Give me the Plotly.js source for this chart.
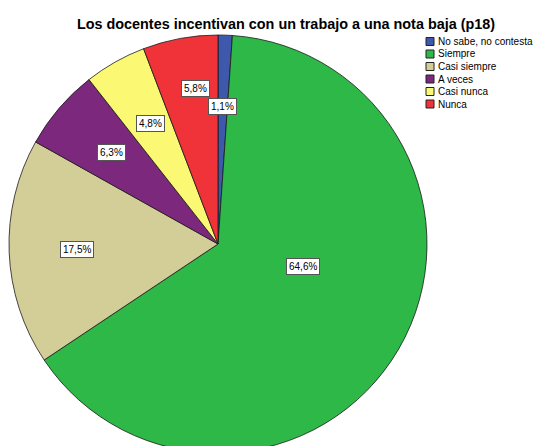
<!DOCTYPE html>
<html>
<head>
<meta charset="utf-8">
<script src="https://cdn.plot.ly/plotly-3.0.1.min.js"></script>
<style>
html,body{margin:0;padding:0;overflow:hidden;background:#fff;width:534px;height:446px;}
#chart{width:534px;height:460px;}
</style>
</head>
<body>
<div id="chart"></div>
<script>
// ---- data ----
var categories = ["No sabe, no contesta", "Siempre", "Casi siempre", "A veces", "Casi nunca", "Nunca"];
var percents = [1.1, 64.6, 17.5, 6.3, 4.8, 5.8];
var chartTitle = "Los docentes incentivan con un trabajo a una nota baja (p18)";

// ---- styles ----
var colors = ["#3E58AC", "#2EB848", "#D3CE97", "#7C287D", "#FBF873", "#EF3338"];
// label placement: [radius fraction, angle shift in degrees]
var labelPlacement = [[0.66, 0], [0.42, -15], [0.675, 0], [0.67, 0], [0.66, 0], [0.75, 2]];

var W = 534, H = 460;
var M = {l: 9, r: 0, t: 35, b: 7};
var plotW = W - M.l - M.r, plotH = H - M.t - M.b;
var diam = plotH;
var R = diam / 2;
var cx = M.l + R, cy = M.t + R;
function px2x(px){ return (px - M.l) / plotW; }
function py2y(py){ return (H - M.b - py) / plotH; }

var total = percents.reduce(function(a,b){return a+b;}, 0);
var annotations = [];
var cum = 0;
percents.forEach(function(v, i){
  var mid = 360 * (cum + v / 2) / total + labelPlacement[i][1];
  cum += v;
  var th = mid * Math.PI / 180;
  var f = labelPlacement[i][0];
  var px = cx + f * R * Math.sin(th);
  var py = cy - f * R * Math.cos(th);
  annotations.push({
    xref: 'paper', yref: 'paper', x: px2x(px), y: py2y(py),
    xanchor: 'center', yanchor: 'middle', showarrow: false,
    text: v.toFixed(1).replace('.', ',') + '%',
    font: {family: 'Liberation Sans, Arial, sans-serif', size: 10, color: '#000'},
    bgcolor: '#fff', bordercolor: '#555', borderwidth: 1, borderpad: 2
  });
});

// custom compact legend
var shapes = [];
var legX = 426, legY0 = 41.5, legStep = 12.5, sw = 8;
categories.forEach(function(c, i){
  var yc = legY0 + i * legStep;
  shapes.push({
    type: 'rect', xref: 'paper', yref: 'paper',
    x0: px2x(legX), x1: px2x(legX + sw), y0: py2y(yc - sw/2), y1: py2y(yc + sw/2),
    fillcolor: colors[i], line: {color: '#222', width: 1}
  });
  annotations.push({
    xref: 'paper', yref: 'paper', x: px2x(legX + sw + 2), y: py2y(yc),
    xanchor: 'left', yanchor: 'middle', showarrow: false, text: c,
    font: {family: 'Liberation Sans, Arial, sans-serif', size: 10, color: '#000'}
  });
});

var trace = {
  type: 'pie',
  labels: categories,
  values: percents,
  sort: false,
  direction: 'clockwise',
  rotation: 0,
  textinfo: 'none',
  hoverinfo: 'label+percent',
  marker: {colors: colors, line: {color: '#1a1a1a', width: 0.8}},
  domain: {x: [0, diam / plotW], y: [0, 1]},
  showlegend: false
};

var layout = {
  width: W, height: H,
  margin: M,
  paper_bgcolor: '#fff', plot_bgcolor: '#fff',
  showlegend: false,
  title: {
    text: '<b>' + chartTitle + '</b>',
    font: {family: 'Liberation Sans, Arial, sans-serif', size: 14.4, color: '#000'},
    xref: 'container', yref: 'container',
    x: 286 / W, xanchor: 'center',
    y: 1 - 23.5 / H, yanchor: 'middle'
  },
  annotations: annotations,
  shapes: shapes
};

Plotly.newPlot('chart', [trace], layout, {displayModeBar: false, staticPlot: true});
</script>
</body>
</html>
